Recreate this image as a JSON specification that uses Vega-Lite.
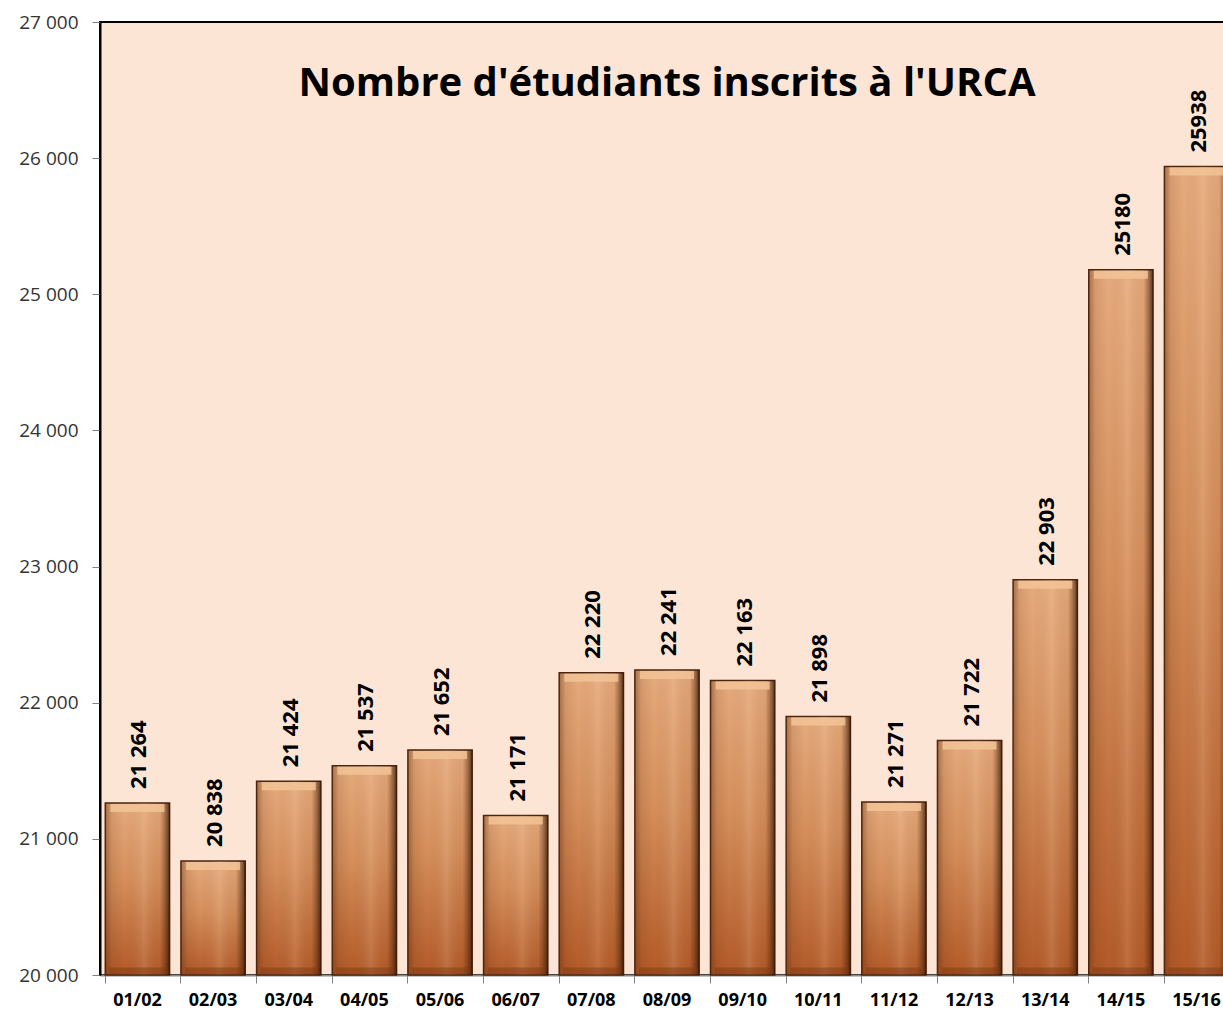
{
  "$schema": "https://vega.github.io/schema/vega-lite/v6.json",
  "autosize": "none",
  "width": 1134,
  "height": 953,
  "padding": {"left": 100, "top": 22, "right": 0, "bottom": 38},
  "background": "#ffffff",
  "title": {
    "text": "Nombre d'étudiants inscrits à l'URCA",
    "font": "Open Sans",
    "fontSize": 40,
    "fontWeight": "bold",
    "color": "#000000",
    "anchor": "middle",
    "baseline": "middle",
    "offset": -111
  },
  "data": {
    "values": [
      {"annee": "01/02", "n": 21264, "label": "21 264"},
      {"annee": "02/03", "n": 20838, "label": "20 838"},
      {"annee": "03/04", "n": 21424, "label": "21 424"},
      {"annee": "04/05", "n": 21537, "label": "21 537"},
      {"annee": "05/06", "n": 21652, "label": "21 652"},
      {"annee": "06/07", "n": 21171, "label": "21 171"},
      {"annee": "07/08", "n": 22220, "label": "22 220"},
      {"annee": "08/09", "n": 22241, "label": "22 241"},
      {"annee": "09/10", "n": 22163, "label": "22 163"},
      {"annee": "10/11", "n": 21898, "label": "21 898"},
      {"annee": "11/12", "n": 21271, "label": "21 271"},
      {"annee": "12/13", "n": 21722, "label": "21 722"},
      {"annee": "13/14", "n": 22903, "label": "22 903"},
      {"annee": "14/15", "n": 25180, "label": "25180"},
      {"annee": "15/16", "n": 25938, "label": "25938"}
    ]
  },
  "encoding": {
    "x": {
      "field": "annee",
      "type": "nominal",
      "sort": null,
      "title": null,
      "scale": {"paddingInner": 0.15, "paddingOuter": 0.07},
      "axis": {
        "labelAngle": 0,
        "labelFont": "Open Sans",
        "labelFontSize": 18,
        "labelFontWeight": "bold",
        "labelColor": "#000000",
        "labelPadding": 8,
        "bandPosition": 0,
        "tickSize": 8,
        "tickColor": "#808080",
        "domainColor": "#8a8a8a",
        "domainWidth": 2
      }
    },
    "y": {
      "field": "n",
      "type": "quantitative",
      "title": null,
      "scale": {"domain": [20000, 27000], "zero": false, "nice": false},
      "axis": {
        "values": [20000, 21000, 22000, 23000, 24000, 25000, 26000, 27000],
        "labelExpr": "replace(format(datum.value, ','), ',', ' ')",
        "labelFont": "Open Sans",
        "labelFontSize": 19,
        "labelColor": "#333333",
        "labelPadding": 14,
        "tickSize": 8,
        "tickColor": "#808080",
        "domainColor": "#000000",
        "domainWidth": 2,
        "grid": false
      }
    }
  },
  "layer": [
    {
      "mark": {
        "type": "bar",
        "stroke": "#4a2510",
        "strokeWidth": 1.5,
        "color": {
          "gradient": "linear",
          "x1": 0, "y1": 0, "x2": 0, "y2": 1,
          "stops": [
            {"offset": 0, "color": "#e6ab7d"},
            {"offset": 0.45, "color": "#d58f5c"},
            {"offset": 1, "color": "#b35a28"}
          ]
        }
      },
      "encoding": {"y2": {"datum": 20000}}
    },
    {
      "mark": {
        "type": "bar",
        "strokeWidth": 0,
        "color": {
          "gradient": "linear",
          "x1": 0, "y1": 0, "x2": 1, "y2": 0,
          "stops": [
            {"offset": 0, "color": "rgba(90,40,10,0.45)"},
            {"offset": 0.1, "color": "rgba(90,40,10,0.12)"},
            {"offset": 0.3, "color": "rgba(90,40,10,0)"},
            {"offset": 0.6, "color": "rgba(255,220,190,0.15)"},
            {"offset": 0.85, "color": "rgba(90,40,10,0.05)"},
            {"offset": 0.95, "color": "rgba(60,25,5,0.5)"},
            {"offset": 1, "color": "rgba(50,20,5,0.8)"}
          ]
        }
      },
      "encoding": {"y2": {"datum": 20000}}
    },
    {
      "mark": {
        "type": "tick",
        "color": "#f2c397",
        "opacity": 0.85,
        "thickness": 8,
        "size": 54,
        "yOffset": 5
      }
    },
    {
      "mark": {
        "type": "tick",
        "color": "#7a3812",
        "opacity": 0.45,
        "thickness": 7,
        "size": 56,
        "yOffset": -4
      },
      "encoding": {"y": {"datum": 20000}}
    },
    {
      "mark": {
        "type": "text",
        "angle": 270,
        "align": "left",
        "baseline": "middle",
        "dx": 14,
        "dy": 2,
        "font": "Open Sans",
        "fontSize": 22,
        "fontWeight": "bold",
        "color": "#000000"
      },
      "encoding": {
        "text": {"field": "label"}
      }
    }
  ],
  "config": {
    "view": {"fill": "#fce5d5", "stroke": "#000000", "strokeWidth": 2}
  }
}
